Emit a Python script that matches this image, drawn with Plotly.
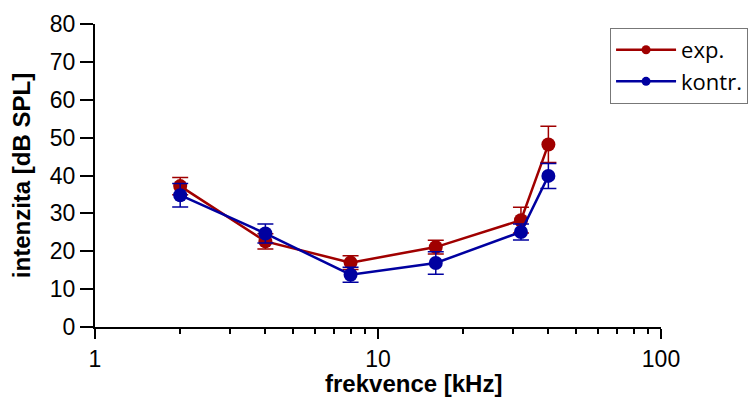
import plotly.graph_objects as go

freq = [2, 4, 8, 16, 32, 40]
exp_vals = [37.2, 22.6, 17.0, 21.1, 28.2, 48.2]
exp_err = [2.3, 2.0, 1.8, 1.8, 3.4, 4.8]
kontr_vals = [34.8, 24.7, 13.8, 16.9, 25.1, 39.9]
kontr_err = [3.1, 2.5, 2.0, 3.0, 2.1, 3.3]
series_names = ["exp.", "kontr."]
colors = ["#A00000", "#0000A0"]

fig = go.Figure()
for name, vals, err, col in zip(series_names, [exp_vals, kontr_vals], [exp_err, kontr_err], colors):
    fig.add_trace(go.Scatter(
        x=freq, y=vals, name=name, mode="lines+markers", showlegend=False,
        line=dict(color=col, width=2.5),
        marker=dict(color=col, size=14),
        error_y=dict(type="data", array=err, color=col, thickness=1.5, width=8),
        cliponaxis=False,
    ))
# legend entries (smaller symbols, as in the reference)
for name, col in zip(series_names, colors):
    fig.add_trace(go.Scatter(
        x=[None], y=[None], name=name, mode="lines+markers",
        line=dict(color=col, width=2.5),
        marker=dict(color=col, size=9),
    ))

fig.add_annotation(
    text="<b>frekvence [kHz]</b>", xref="paper", yref="paper",
    x=0.5636, y=-0.185, xanchor="center", yanchor="middle",
    showarrow=False, font=dict(size=24, family="Liberation Sans, Arial, sans-serif"),
)

fig.update_layout(
    width=752, height=398,
    margin=dict(l=95, r=91, t=24, b=71, autoexpand=False),
    paper_bgcolor="white", plot_bgcolor="white",
    font=dict(family="Liberation Sans, Arial, sans-serif", color="black"),
    showlegend=True,
    legend=dict(
        x=0.91, y=0.987, xanchor="left", yanchor="top",
        bordercolor="#777777", borderwidth=1,
        font=dict(family="Open Sans, Noto Sans, sans-serif", size=22),
        itemwidth=60, tracegroupgap=0,
    ),
    xaxis=dict(
        type="log", range=[0, 2], automargin=False,
        showgrid=False, zeroline=False,
        showline=True, linecolor="black", linewidth=2,
        ticks="outside", ticklen=10, tickwidth=2, tickcolor="black",
        tickvals=[1, 10, 100], ticktext=["1", "10", "100"],
        tickfont=dict(size=23),
        minor=dict(ticks="outside", ticklen=5, tickwidth=1.5, tickcolor="black",
                   tickvals=[2, 3, 4, 5, 6, 7, 8, 9, 20, 30, 40, 50, 60, 70, 80, 90], showgrid=False),
    ),
    yaxis=dict(
        range=[0, 80], dtick=10, automargin=False,
        showgrid=False, zeroline=False,
        showline=True, linecolor="black", linewidth=2,
        ticks="outside", ticklen=13, tickwidth=2, tickcolor="black",
        tickfont=dict(size=23),
        title=dict(text="<b>intenzita [dB SPL]</b>", font=dict(size=24), standoff=12),
    ),
)

fig.write_html("out.html")
